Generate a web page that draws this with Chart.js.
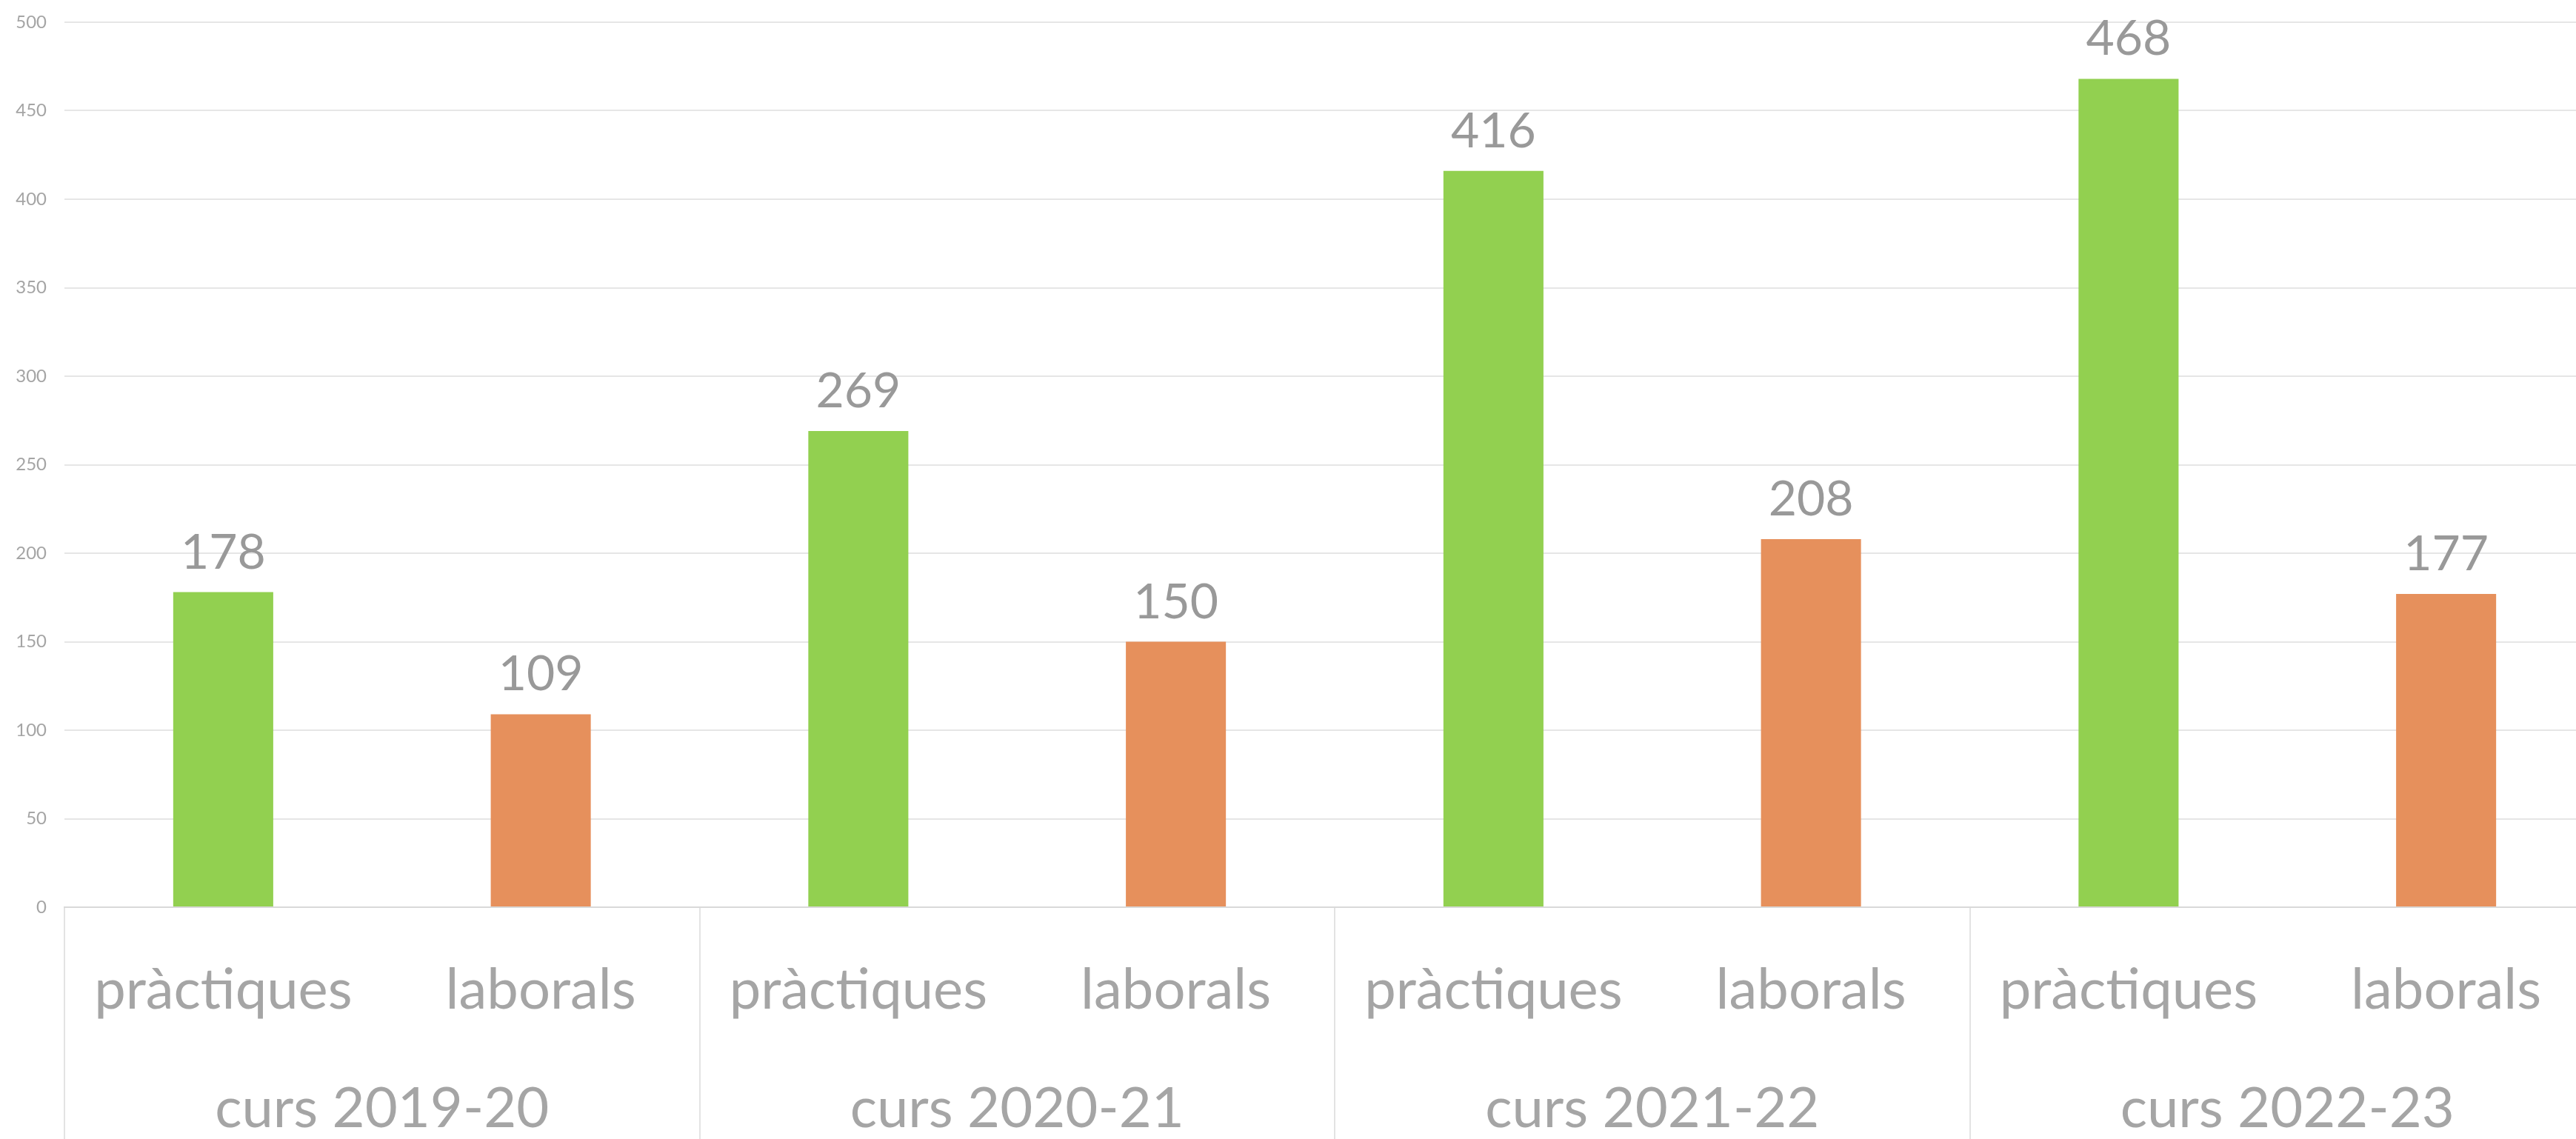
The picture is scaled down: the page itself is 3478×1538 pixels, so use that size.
<!DOCTYPE html>
<html lang="ca">
<head>
	<meta charset="UTF-8">
	<title>Pràctiques i laborals</title>
	<script src="https://cdn.jsdelivr.net/npm/chart.js"></script>
	<style>
		html, body { margin: 0; padding: 0; background: #fff; overflow: hidden; }
		#wrap { width: 3520px; height: 1538px; }
	</style>
</head>
<body>
	<div id="wrap">
		<canvas id="myChart"></canvas>
	</div>

	<script>
		// data
		const courses = ["curs 2019-20", "curs 2020-21", "curs 2021-22", "curs 2022-23"];
		const kinds = ["pràctiques", "laborals"];
		const practiques = [178, 269, 416, 468];
		const laborals = [109, 150, 208, 177];
		const yTicks = [0, 50, 100, 150, 200, 250, 300, 350, 400, 450, 500];

		const green = "#92d050";
		const orange = "#e6905c";
		const grey = "#a5a5a5";
		const font = "Lato";

		// one category per bar: pràctiques, laborals for each course
		const labels = [];
		const values = [];
		const colors = [];
		courses.forEach((c, i) => {
			labels.push(kinds[0], kinds[1]);
			values.push(practiques[i], laborals[i]);
			colors.push(green, orange);
		});

		const labelPlugin = {
			id: "labels",
			afterDatasetsDraw(chart) {
				const ctx = chart.ctx;
				const meta = chart.getDatasetMeta(0);
				ctx.save();
				ctx.fillStyle = "#999999";
				ctx.font = "66px " + font;
				ctx.textAlign = "center";
				ctx.textBaseline = "alphabetic";
				meta.data.forEach((bar, i) => {
					ctx.fillText(values[i], bar.x, bar.y - 32);
				});
				ctx.restore();
			},
			afterDraw(chart) {
				const ctx = chart.ctx;
				const x = chart.scales.x;
				ctx.save();
				ctx.fillStyle = grey;
				ctx.textAlign = "center";
				ctx.textBaseline = "alphabetic";
				ctx.font = "76px " + font;
				labels.forEach((l, i) => {
					ctx.fillText(l, x.getPixelForValue(i), 1362);
				});
				courses.forEach((c, i) => {
					const cx = (x.getPixelForValue(2 * i) + x.getPixelForValue(2 * i + 1)) / 2;
					ctx.fillText(c, cx, 1522);
				});
				ctx.restore();
			}
		};

		const config = {
			type: "bar",
			data: {
				labels: labels,
				datasets: [{
					data: values,
					backgroundColor: colors,
					borderWidth: 0,
					barPercentage: 0.315,
					categoryPercentage: 1.0
				}]
			},
			options: {
				responsive: true,
				maintainAspectRatio: false,
				animation: false,
				layout: { padding: { top: 30, right: 3, left: 0, bottom: 0 } },
				plugins: {
					legend: { display: false },
					tooltip: { enabled: false }
				},
				scales: {
					x: {
						grid: {
							offset: true,
							drawOnChartArea: false,
							drawTicks: true,
							tickLength: 313,
							lineWidth: 2,
							color: (c) => (c.index % 2 === 0 ? "#e3e3e3" : "rgba(0,0,0,0)")
						},
						border: { display: true, color: "#d9d9d9", width: 2 },
						ticks: { display: false }
					},
					y: {
						min: 0,
						max: 500,
						afterBuildTicks: (s) => { s.ticks = yTicks.map(v => ({ value: v })); },
						afterFit: (s) => {
							s.width = 87;
							s.paddingTop = 10;
							s.paddingBottom = 10;
						},
						grid: { color: "#e6e6e6", lineWidth: 2, drawTicks: false },
						border: { display: false },
						ticks: {
							color: grey,
							padding: 24,
							font: { family: font, size: 24 }
						}
					}
				}
			},
			plugins: [labelPlugin]
		};

		const myChart = new Chart(document.getElementById("myChart"), config);
	</script>
</body>
</html>
